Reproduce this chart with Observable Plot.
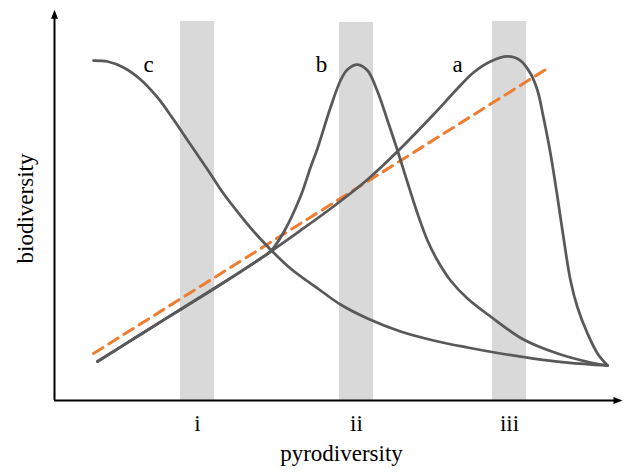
<!DOCTYPE html>
<html>
<head>
<meta charset="utf-8">
<script src="https://cdn.jsdelivr.net/npm/d3@7"></script>
<script src="https://cdn.jsdelivr.net/npm/@observablehq/plot@0.6"></script>
<style>
  html, body { margin: 0; padding: 0; background: white; }
</style>
</head>
<body>
<div id="chart"></div>
<script>
// ---- data (abstract units: pyrodiversity 0–10, biodiversity 0–10) ----
const curveA_x = [0.757, 1.514, 2.218, 2.923, 3.627, 4.331, 4.912, 5.511, 6.092, 6.673, 7.095, 7.377, 7.676, 7.975, 8.204, 8.380, 8.504, 8.609, 8.732, 8.856, 8.961, 9.085, 9.208, 9.384, 9.560, 9.736];
const curveA_y = [0.995, 1.684, 2.321, 2.959, 3.622, 4.337, 4.949, 5.638, 6.429, 7.296, 7.959, 8.367, 8.648, 8.776, 8.673, 8.342, 7.908, 7.219, 6.301, 5.179, 4.158, 3.061, 2.372, 1.709, 1.199, 0.893];

const curveB_x = [0.757, 1.514, 2.218, 2.923, 3.627, 3.803, 4.032, 4.331, 4.507, 4.630, 4.859, 5.035, 5.158, 5.335, 5.511, 5.687, 5.863, 6.039, 6.215, 6.391, 6.567, 6.743, 6.972, 7.271, 7.676, 8.257, 8.856, 9.437, 9.736];
const curveB_y = [0.995, 1.684, 2.321, 2.959, 3.622, 3.801, 4.286, 5.204, 5.944, 6.429, 7.474, 8.163, 8.444, 8.571, 8.418, 7.883, 7.143, 6.378, 5.561, 4.770, 4.082, 3.571, 3.061, 2.602, 2.143, 1.556, 1.199, 0.969, 0.893];

const curveC_x = [0.687, 0.933, 1.215, 1.514, 1.813, 2.095, 2.394, 2.694, 2.975, 3.275, 3.539, 3.803, 4.155, 4.683, 5.035, 5.511, 6.092, 6.673, 7.271, 7.852, 8.433, 9.032, 9.736];
const curveC_y = [8.673, 8.648, 8.495, 8.189, 7.730, 7.168, 6.531, 5.893, 5.281, 4.719, 4.260, 3.852, 3.367, 2.806, 2.449, 2.092, 1.760, 1.531, 1.352, 1.199, 1.071, 0.969, 0.893];

const trendX = [0.687, 8.732];
const trendY = [1.199, 8.520];

const bandStart = [2.218, 5.018, 7.711];
const bandEnd   = [2.817, 5.616, 8.310];
const bandTop   = [9.668, 9.643, 9.668];
const tickLabels = ["i", "ii", "iii"];

const curveNames = ["a", "b", "c"];
const curveLabelX = [7.095, 4.700, 1.655];
const curveLabelY = [8.58, 8.58, 8.58];

const xTitle = "pyrodiversity";
const yTitle = "biodiversity";

// ---- build tables ----
const toRows = (name, xs, ys) => xs.map((x, i) => ({curve: name, x, y: ys[i]}));
const curves = [
  ...toRows("a", curveA_x, curveA_y),
  ...toRows("b", curveB_x, curveB_y),
  ...toRows("c", curveC_x, curveC_y)
];
const trend = trendX.map((x, i) => ({x, y: trendY[i]}));
const bands = bandStart.map((s, i) => ({x1: s, x2: bandEnd[i], top: bandTop[i], label: tickLabels[i], mid: (s + bandEnd[i]) / 2}));
const curveLabels = curveNames.map((n, i) => ({text: n, x: curveLabelX[i], y: curveLabelY[i]}));

const upHead = {draw(ctx) { ctx.moveTo(0, 0); ctx.lineTo(-3.5, 9); ctx.lineTo(3.5, 9); ctx.closePath(); }};
const rightHead = {draw(ctx) { ctx.moveTo(0, 0); ctx.lineTo(-9, -3.5); ctx.lineTo(-9, 3.5); ctx.closePath(); }};

const chart = Plot.plot({
  width: 624,
  height: 472,
  marginLeft: 54,
  marginRight: 2,
  marginTop: 8,
  marginBottom: 72,
  x: {domain: [0, 10], axis: null},
  y: {domain: [0, 10], axis: null},
  style: {fontFamily: "'Liberation Serif', 'Times New Roman', serif", fontSize: "23px", background: "white", color: "black", overflow: "visible"},
  marks: [
    Plot.rect(bands, {x1: "x1", x2: "x2", y1: 0, y2: "top", fill: "#d9d9d9"}),
    Plot.line(trend, {x: "x", y: "y", stroke: "#ED7D31", strokeWidth: 3, strokeDasharray: "11,7"}),
    Plot.line(curves, {x: "x", y: "y", z: "curve", stroke: "#595959", strokeWidth: 2.75, curve: "catmull-rom"}),
    Plot.ruleX([0], {y1: 0, y2: 9.85, stroke: "black", strokeWidth: 2}),
    Plot.ruleY([0], {x1: 0, x2: 9.88, stroke: "black", strokeWidth: 2}),
    Plot.dot([{x: 0, y: 9.97}], {x: "x", y: "y", symbol: upHead, fill: "black", stroke: "none"}),
    Plot.dot([{x: 10.0, y: 0}], {x: "x", y: "y", symbol: rightHead, fill: "black", stroke: "none"}),
    Plot.text(curveLabels, {x: "x", y: "y", text: "text", fill: "black", lineAnchor: "middle"}),
    Plot.text(bands, {x: "mid", text: "label", frameAnchor: "bottom", lineAnchor: "middle", textAnchor: "middle", dy: 23, fill: "black"}),
    Plot.text([xTitle], {text: d => d, frameAnchor: "bottom", lineAnchor: "middle", textAnchor: "middle", dy: 53.6, dx: 3, fill: "black"}),
    Plot.text([yTitle], {text: d => d, frameAnchor: "left", rotate: -90, lineAnchor: "middle", textAnchor: "middle", dx: -29, dy: 4, fill: "black"})
  ]
});
document.getElementById("chart").appendChild(chart);
</script>
</body>
</html>
